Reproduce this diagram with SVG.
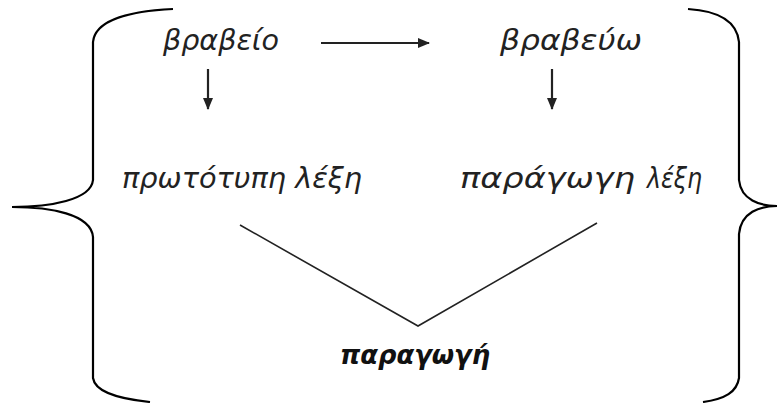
<svg xmlns="http://www.w3.org/2000/svg" width="779" height="403" viewBox="0 0 779 403">
<style>
  .t { font-family: "DejaVu Sans", "Noto Sans", sans-serif; font-style: oblique; font-size: 28px; fill: #222; }
  .b { font-family: "DejaVu Sans", "Noto Sans", sans-serif; font-style: oblique; font-weight: bold; font-size: 27px; fill: #111; }
  .brace { fill: none; stroke: #000; stroke-width: 2.2; }
  .ln { fill: none; stroke: #222; stroke-width: 1.6; }
  .ar { fill: none; stroke: #222; stroke-width: 2.2; marker-end: url(#ah); }
</style>
<defs>
  <marker id="ah" markerWidth="12" markerHeight="10" refX="11" refY="5" orient="auto" markerUnits="userSpaceOnUse">
    <path d="M0,0 L12,5 L0,10 Z" fill="#222"/>
  </marker>
</defs>
<rect width="779" height="403" fill="#fff"/>
<g id="braces">
  <path class="brace" d="M173,9 C130,11 95,20 93,42 L93,180 C91,200 50,207 12,207 C50,207 91,214 93,237 L93,378 C95,392 120,399 150,402"/>
  <path class="brace" d="M688,9 C720,11 737,22 739,42 L739,180 C741,200 760,206 777,206 C760,206 741,212 739,234 L739,378 C737,392 725,399 703,402"/>
</g>
<g id="connectors">
  <line class="ar" x1="321" y1="43" x2="429" y2="43"/>
  <line class="ar" x1="208" y1="69" x2="208" y2="109"/>
  <line class="ar" x1="552" y1="69" x2="552" y2="109"/>
  <polyline class="ln" points="240,225 418,326 597,223"/>
</g>
<g id="n-vraveio"><text class="t" x="163" y="50" textLength="116" lengthAdjust="spacingAndGlyphs">βραβείο</text></g>
<g id="n-vravevo"><text class="t" x="500" y="50" textLength="142" lengthAdjust="spacingAndGlyphs">βραβεύω</text></g>
<g id="n-prototypi"><text class="t" x="122" y="188" textLength="240" lengthAdjust="spacingAndGlyphs">πρωτότυπη λέξη</text></g>
<g id="n-paragogi-lexi"><text class="t" y="188"><tspan x="460" textLength="175" lengthAdjust="spacingAndGlyphs">παράγωγη</tspan><tspan x="647" textLength="55" lengthAdjust="spacingAndGlyphs">λέξη</tspan></text></g>
<g id="n-paragogi"><text class="b" x="340" y="364" textLength="150" lengthAdjust="spacingAndGlyphs">παραγωγή</text></g>
</svg>
